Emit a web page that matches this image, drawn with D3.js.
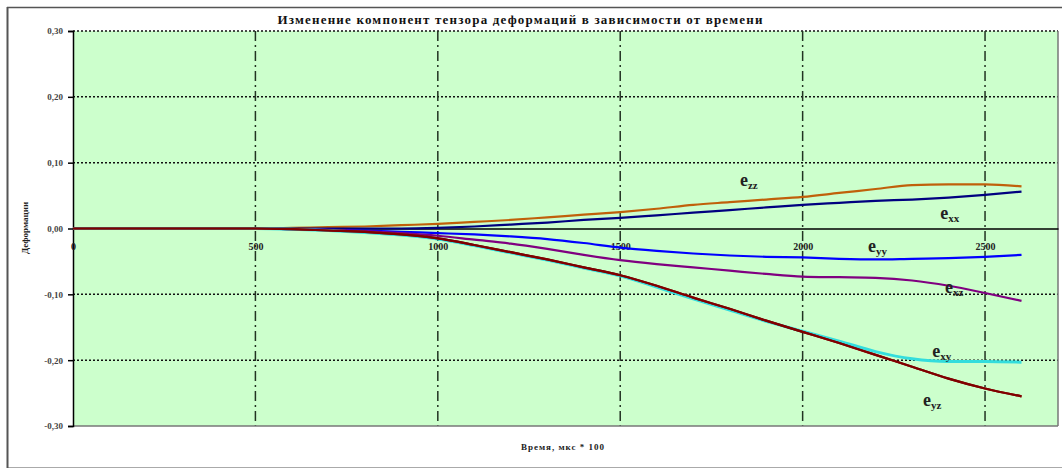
<!DOCTYPE html>
<html><head><meta charset="utf-8">
<script src="https://cdn.jsdelivr.net/npm/d3@7"></script>
<style>body{margin:0;background:#fff}svg{display:block}</style>
</head><body><svg id="c" width="1062" height="469"></svg>
<script>
const times = [0,500,600,700,800,900,1000,1100,1200,1300,1400,1500,1600,1700,1800,1900,2000,2100,2200,2300,2400,2500,2600];
const ezz = [0,0,0.001,0.002,0.003,0.005,0.007,0.010,0.013,0.017,0.021,0.025,0.030,0.036,0.040,0.044,0.048,0.054,0.060,0.066,0.067,0.067,0.064];
const exx = [0,0,0,0,0,0,0.001,0.003,0.006,0.009,0.013,0.016,0.020,0.024,0.028,0.032,0.036,0.039,0.042,0.044,0.047,0.051,0.056];
const eyy = [0,0,-0.001,-0.002,-0.003,-0.005,-0.007,-0.009,-0.012,-0.016,-0.022,-0.029,-0.034,-0.038,-0.041,-0.043,-0.044,-0.046,-0.047,-0.046,-0.045,-0.043,-0.040];
const exz = [0,0,-0.001,-0.002,-0.004,-0.007,-0.011,-0.017,-0.023,-0.031,-0.040,-0.048,-0.054,-0.059,-0.064,-0.069,-0.073,-0.074,-0.075,-0.079,-0.087,-0.098,-0.110];
const eyz = [0,0,-0.001,-0.003,-0.005,-0.009,-0.015,-0.025,-0.036,-0.047,-0.059,-0.071,-0.087,-0.105,-0.122,-0.140,-0.157,-0.174,-0.192,-0.210,-0.228,-0.243,-0.255];
const exy = [0,0,-0.001,-0.003,-0.006,-0.010,-0.016,-0.026,-0.037,-0.048,-0.060,-0.072,-0.089,-0.107,-0.124,-0.141,-0.156,-0.171,-0.187,-0.198,-0.202,-0.202,-0.203];
const xTicks = [0,500,1000,1500,2000,2500];
const yTicks = [-0.3,-0.2,-0.1,0,0.1,0.2,0.3];
const titleText = "Изменение компонент тензора деформаций в зависимости от времени";
const xTitle = "Время, мкс * 100";
const yTitle = "Деформации";

const series = [
  {name:"zz", values:ezz, color:"#C0600A", lx:1828, ly:0.0646},
  {name:"xx", values:exx, color:"#000080", lx:2377, ly:0.0145},
  {name:"yy", values:eyy, color:"#0000FF", lx:2179, ly:-0.036},
  {name:"xz", values:exz, color:"#800080", lx:2390, ly:-0.098},
  {name:"xy", values:exy, color:"#33DDDD", lx:2355, ly:-0.195},
  {name:"yz", values:eyz, color:"#800000", lx:2330, ly:-0.270}
];

const svg = d3.select("#c");
const L=73, R=1058, T=31, B=426;
const x = d3.scaleLinear().domain([0,2700]).range([L,R]);
const y = d3.scaleLinear().domain([-0.3,0.3]).range([B,T]);

// outer frame
svg.append("rect").attr("x",7.5).attr("y",7.5).attr("width",1060).attr("height",460)
  .attr("fill","#fff").attr("stroke","#aaa").attr("stroke-width",1);
svg.append("line").attr("x1",7.5).attr("x2",7.5).attr("y1",7).attr("y2",468).attr("stroke","#555").attr("stroke-width",2);
svg.append("line").attr("x1",7).attr("x2",1062).attr("y1",7.5).attr("y2",7.5).attr("stroke","#555").attr("stroke-width",1.5);

// plot area
svg.append("rect").attr("x",L).attr("y",T).attr("width",R-L).attr("height",B-T).attr("fill","#CCFFCC");

// horizontal grid
svg.append("g").selectAll("line").data(yTicks.filter(d=>d!==0 && d!==-0.3)).join("line")
  .attr("x1",L).attr("x2",R).attr("y1",d=>y(d)).attr("y2",d=>y(d))
  .attr("stroke","#111").attr("stroke-width",1.5).attr("stroke-dasharray","2,2");
// vertical grid
svg.append("g").selectAll("line").data(xTicks.filter(d=>d>0)).join("line")
  .attr("x1",d=>x(d)).attr("x2",d=>x(d)).attr("y1",T).attr("y2",B)
  .attr("stroke","#223322").attr("stroke-width",1.5).attr("stroke-dasharray","10,4,2,4");

// plot borders
svg.append("line").attr("x1",L).attr("x2",R).attr("y1",B).attr("y2",B).attr("stroke","#777").attr("stroke-width",1.5);
svg.append("line").attr("x1",R).attr("x2",R).attr("y1",T).attr("y2",B).attr("stroke","#777").attr("stroke-width",1.5);

// y axis
const yAxis = d3.axisLeft(y).tickValues(yTicks).tickSize(5).tickPadding(5)
  .tickFormat(d=>d3.format(".2f")(d).replace(".",",").replace("−","-"));
const gy = svg.append("g").attr("transform",`translate(${L},0)`).call(yAxis);
gy.select(".domain").attr("stroke","#000").attr("stroke-width",1.5);
gy.selectAll(".tick line").attr("stroke","#000").attr("stroke-width",1.5);
gy.selectAll("text").attr("font-family","Liberation Serif").attr("font-size",9).attr("font-weight","bold").attr("fill","#444");

// x axis through zero
const xAxis = d3.axisBottom(x).tickValues(xTicks).tickSize(0).tickPadding(14).tickFormat(d3.format("d"));
const gx = svg.append("g").attr("transform",`translate(0,${y(0)})`).call(xAxis);
gx.select(".domain").attr("stroke","#000").attr("stroke-width",1.5);
gx.selectAll("text").attr("font-family","Liberation Serif").attr("font-size",10).attr("font-weight","bold").attr("fill","#222");

// lines
const line = d3.line().x((d,i)=>x(times[i])).y(d=>y(d)).curve(d3.curveMonotoneX);
series.forEach(s=>{
  svg.append("path").attr("d",line(s.values)).attr("fill","none")
    .attr("stroke",s.color).attr("stroke-width",s.name==="xy"?3:2.2);
});
svg.append("path").attr("d",line(eyz)).attr("fill","none").attr("stroke","#800000").attr("stroke-width",2.2);

// labels
series.forEach(s=>{
  const t = svg.append("text").attr("x",x(s.lx)).attr("y",y(s.ly))
    .attr("font-family","Liberation Serif").attr("font-weight","bold").attr("fill","#222");
  t.append("tspan").attr("font-size",18).text("e");
  t.append("tspan").attr("font-size",11).attr("dy",3).text(s.name);
});

// titles
svg.append("text").attr("x",520).attr("y",24).attr("text-anchor","middle")
  .attr("font-family","Liberation Serif").attr("font-weight","bold").attr("font-size",13)
  .attr("textLength",485).attr("lengthAdjust","spacing").attr("fill","#111").text(titleText);
svg.append("text").attr("x",563).attr("y",450).attr("text-anchor","middle")
  .attr("font-family","Liberation Serif").attr("font-weight","bold").attr("font-size",9)
  .attr("letter-spacing",1).attr("fill","#222").text(xTitle);
svg.append("text").attr("transform","translate(28,228) rotate(-90)").attr("text-anchor","middle")
  .attr("font-family","Liberation Serif").attr("font-weight","bold").attr("font-size",9)
  .attr("fill","#222").text(yTitle);
</script></body></html>
